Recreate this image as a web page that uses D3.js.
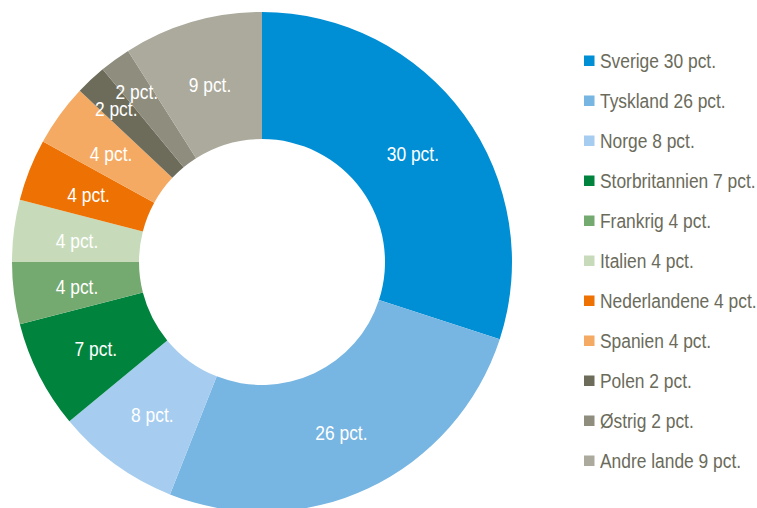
<!DOCTYPE html>
<html>
<head>
<meta charset="utf-8">
<script src="https://cdn.jsdelivr.net/npm/d3@7"></script>
<style>
	body { margin: 0; background: #fff; }
	svg text { font-family: 'Liberation Sans Narrow', 'Arial Narrow', 'Liberation Sans', Arial, sans-serif; }
</style>
</head>
<body>
<svg id="chart" width="757" height="508"></svg>
<script>
var countries = ['Sverige', 'Tyskland', 'Norge', 'Storbritannien', 'Frankrig', 'Italien', 'Nederlandene', 'Spanien', 'Polen', 'Østrig', 'Andre lande'];
var shares = [30, 26, 8, 7, 4, 4, 4, 4, 2, 2, 9];
var colors = ['#008fd5', '#77b5e2', '#a6cdef', '#00843d', '#74a970', '#c7dbbb', '#ee7203', '#f5aa63', '#6d6c5b', '#8f8d7e', '#abaa9c'];

var svg = d3.select('#chart'),
	cx = 262, cy = 262,
	outerR = 250, innerR = 123,
	squeeze = 0.87, // reference uses a condensed face
	g = svg.append('g').attr('transform', 'translate(' + cx + ',' + cy + ')');

var data = countries.map(function (c, i) { return { name: c, value: shares[i], color: colors[i] }; });

var pie = d3.pie().sort(null).value(function (d) { return d.value; });
var arc = d3.arc().innerRadius(innerR).outerRadius(outerR);
var smallArc = d3.arc().innerRadius(176).outerRadius(250); // tiny slices get pushed outward

var arcs = pie(data);

g.selectAll('path.slice')
	.data(arcs)
	.enter().append('path')
	.attr('class', 'slice')
	.attr('fill', function (d) { return d.data.color; })
	.attr('d', arc);

g.selectAll('text.lbl')
	.data(arcs)
	.enter().append('text')
	.attr('class', 'lbl')
	.attr('transform', function (d) {
		var c = d.data.value <= 2 ? smallArc.centroid(d) : arc.centroid(d);
		return 'translate(' + c[0] + ',' + (c[1] + 2) + ') scale(' + squeeze + ',1)';
	})
	.attr('text-anchor', 'middle')
	.attr('dy', '0.35em')
	.attr('fill', '#fff')
	.style('font-size', '20px')
	.text(function (d) { return d.data.value + ' pct.'; });

// legend
var legend = svg.append('g').attr('transform', 'translate(584,0)');
var rowY = d3.scalePoint().domain(countries).range([61, 461]);

var rows = legend.selectAll('g.row')
	.data(data)
	.enter().append('g')
	.attr('class', 'row')
	.attr('transform', function (d) { return 'translate(0,' + rowY(d.name) + ')'; });

rows.append('rect')
	.attr('x', 0)
	.attr('y', -5.5)
	.attr('width', 10.5)
	.attr('height', 10.5)
	.attr('fill', function (d) { return d.color; });

rows.append('text')
	.attr('transform', 'translate(16,0) scale(' + squeeze + ',1)')
	.attr('dy', '0.35em')
	.attr('fill', '#6b6b5b')
	.style('font-size', '20px')
	.text(function (d) { return d.name + ' ' + d.value + ' pct.'; });
</script>
</body>
</html>
